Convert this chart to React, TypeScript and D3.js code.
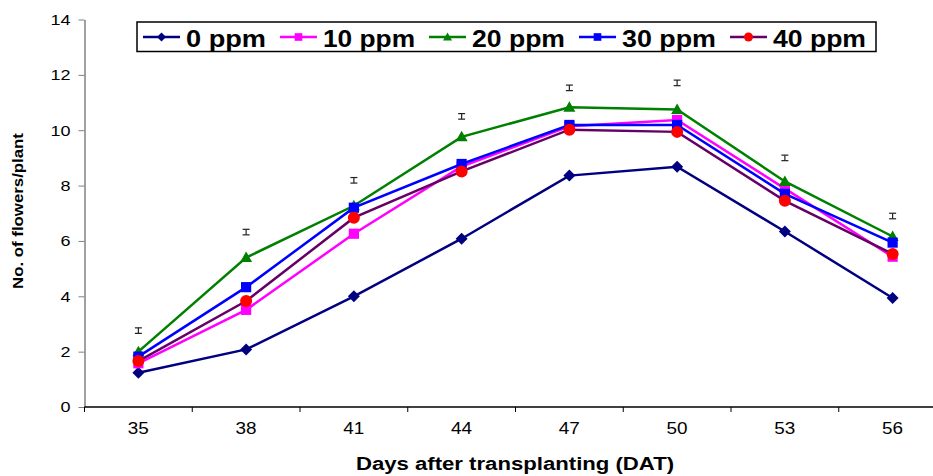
import React, { useRef, useEffect } from 'react';
import * as d3 from 'd3';

// days after transplanting
const days = [35, 38, 41, 44, 47, 50, 53, 56];
const yTicks = [0, 2, 4, 6, 8, 10, 12, 14];

const ppm0 = [1.24, 2.08, 4.0, 6.08, 8.36, 8.68, 6.34, 3.94];
const ppm10 = [1.58, 3.51, 6.26, 8.69, 10.14, 10.37, 7.89, 5.43];
const ppm20 = [2.0, 5.4, 7.27, 9.76, 10.83, 10.75, 8.15, 6.16];
const ppm30 = [1.82, 4.33, 7.2, 8.78, 10.19, 10.19, 7.7, 5.94];
const ppm40 = [1.66, 3.83, 6.84, 8.51, 10.02, 9.94, 7.45, 5.53];

// the little "I" marks above each group
const errMarks = [2.76, 6.32, 8.19, 10.5, 11.53, 11.71, 9.0, 6.9];
const errHalf = 0.1;

const series = [
  { name: '0 ppm', values: ppm0, line: '#000080', fill: '#000080', shape: 'diamond' },
  { name: '10 ppm', values: ppm10, line: '#FF00FF', fill: '#FF00FF', shape: 'square' },
  { name: '20 ppm', values: ppm20, line: '#008000', fill: '#008000', shape: 'triangle' },
  { name: '30 ppm', values: ppm30, line: '#0000FF', fill: '#0000FF', shape: 'square' },
  { name: '40 ppm', values: ppm40, line: '#660066', fill: '#FF0000', shape: 'circle' },
];

const FONT = 'Liberation Sans, Arial, sans-serif';

function markerPath(shape: string, s: number) {
  // s = half size
  if (shape === 'diamond') return `M0,${-s}L${s},0L0,${s}L${-s},0Z`;
  if (shape === 'square') return `M${-s * 0.85},${-s * 0.85}H${s * 0.85}V${s * 0.85}H${-s * 0.85}Z`;
  if (shape === 'triangle') return `M0,${-s}L${s},${s * 0.75}L${-s},${s * 0.75}Z`;
  return d3.arc()({ innerRadius: 0, outerRadius: s, startAngle: 0, endAngle: Math.PI * 2 }) as string;
}

// the source picture is stretched sideways, so widen the text the same way
function stretch(sel: any, k: number) {
  sel.each(function (this: any) {
    const len = this.getComputedTextLength();
    d3.select(this).attr('textLength', len * k).attr('lengthAdjust', 'spacingAndGlyphs');
  });
}

const App = () => {
  const ref = useRef<SVGSVGElement | null>(null);

  useEffect(() => {
    document.body.style.margin = '0';
    const svg = d3.select(ref.current);
    svg.selectAll('*').remove();

    const x = d3.scaleBand<number>().domain(days).range([84.5, 946.5]);
    const cx = (d: number) => (x(d) as number) + x.bandwidth() / 2;
    const y = d3.scaleLinear().domain([0, 14]).range([407, 19.5]);

    // y axis
    const yAxis = svg.append('g')
      .attr('transform', 'translate(84.5,0)')
      .call(d3.axisLeft(y).tickValues(yTicks).tickSize(6).tickSizeOuter(0).tickPadding(8));
    yAxis.select('.domain').attr('stroke', '#808080').attr('stroke-width', 1.5);
    yAxis.selectAll('.tick line').attr('stroke', '#808080');
    yAxis.selectAll('.tick text')
      .attr('font-family', FONT).attr('font-size', 15).attr('fill', '#000');
    stretch(yAxis.selectAll('.tick text'), 1.2);

    // x axis: line, ticks at band edges, labels in the middle
    svg.append('line')
      .attr('x1', 84.5).attr('x2', 946.5).attr('y1', y(0)).attr('y2', y(0))
      .attr('stroke', '#000').attr('stroke-width', 1.5);
    svg.append('g').selectAll('line')
      .data([...days.map(d => x(d) as number), 946.5])
      .join('line')
      .attr('x1', d => d).attr('x2', d => d)
      .attr('y1', y(0)).attr('y2', y(0) + 5)
      .attr('stroke', '#000');
    const xLabels = svg.append('g').selectAll('text')
      .data(days)
      .join('text')
      .attr('x', d => cx(d)).attr('y', 434)
      .attr('text-anchor', 'middle')
      .attr('font-family', FONT).attr('font-size', 16)
      .text(d => d);
    stretch(xLabels, 1.18);

    // axis titles
    const xTitle = svg.append('text')
      .attr('x', 515).attr('y', 470)
      .attr('text-anchor', 'middle')
      .attr('font-family', FONT).attr('font-weight', 'bold').attr('font-size', 18)
      .text('Days after transplanting (DAT)');
    stretch(xTitle, 1.23);

    const yTitle = svg.append('text')
      .attr('transform', 'translate(23,211) rotate(-90)')
      .attr('text-anchor', 'middle')
      .attr('font-family', FONT).attr('font-weight', 'bold').attr('font-size', 14)
      .text('No. of flowers/plant');
    stretch(yTitle, 1.2);

    // error marks
    const err = svg.append('g').attr('stroke', '#222').attr('stroke-width', 1.2);
    errMarks.forEach((v, i) => {
      const px = cx(days[i]);
      const y1 = y(v + errHalf), y2 = y(v - errHalf);
      err.append('line').attr('x1', px).attr('x2', px).attr('y1', y1).attr('y2', y2);
      err.append('line').attr('x1', px - 3.5).attr('x2', px + 3.5).attr('y1', y1).attr('y2', y1);
      err.append('line').attr('x1', px - 3.5).attr('x2', px + 3.5).attr('y1', y2).attr('y2', y2);
    });

    // series
    const line = d3.line<number>().x((_, i) => cx(days[i])).y(d => y(d));
    series.forEach(s => {
      const g = svg.append('g');
      g.append('path')
        .attr('d', line(s.values))
        .attr('fill', 'none')
        .attr('stroke', s.line)
        .attr('stroke-width', 2.5);
      g.selectAll('path.m')
        .data(s.values)
        .join('path')
        .attr('class', 'm')
        .attr('transform', (d, i) => `translate(${cx(days[i])},${y(d)})`)
        .attr('d', markerPath(s.shape, 6))
        .attr('fill', s.fill);
    });

    // legend
    const lg = svg.append('g');
    lg.append('rect')
      .attr('x', 137).attr('y', 22).attr('width', 739).attr('height', 29.5)
      .attr('fill', '#fff').attr('stroke', '#000').attr('stroke-width', 1.5);
    const textWidths = [80, 92, 93, 94, 93];
    let lx = 143;
    series.forEach((s, i) => {
      lg.append('line')
        .attr('x1', lx).attr('x2', lx + 37).attr('y1', 37).attr('y2', 37)
        .attr('stroke', s.line).attr('stroke-width', 2.5);
      lg.append('path')
        .attr('transform', `translate(${lx + 18.5},37)`)
        .attr('d', markerPath(s.shape, 4.5))
        .attr('fill', s.fill);
      lg.append('text')
        .attr('x', lx + 43).attr('y', 46.5)
        .attr('font-family', FONT).attr('font-weight', 'bold').attr('font-size', 23)
        .attr('textLength', textWidths[i]).attr('lengthAdjust', 'spacingAndGlyphs')
        .text(s.name);
      lx = lx + 43 + textWidths[i] + 14;
    });
  }, []);

  return <svg ref={ref} width={933} height={476} style={{ display: 'block', background: '#fff' }} />;
};

export default App;
